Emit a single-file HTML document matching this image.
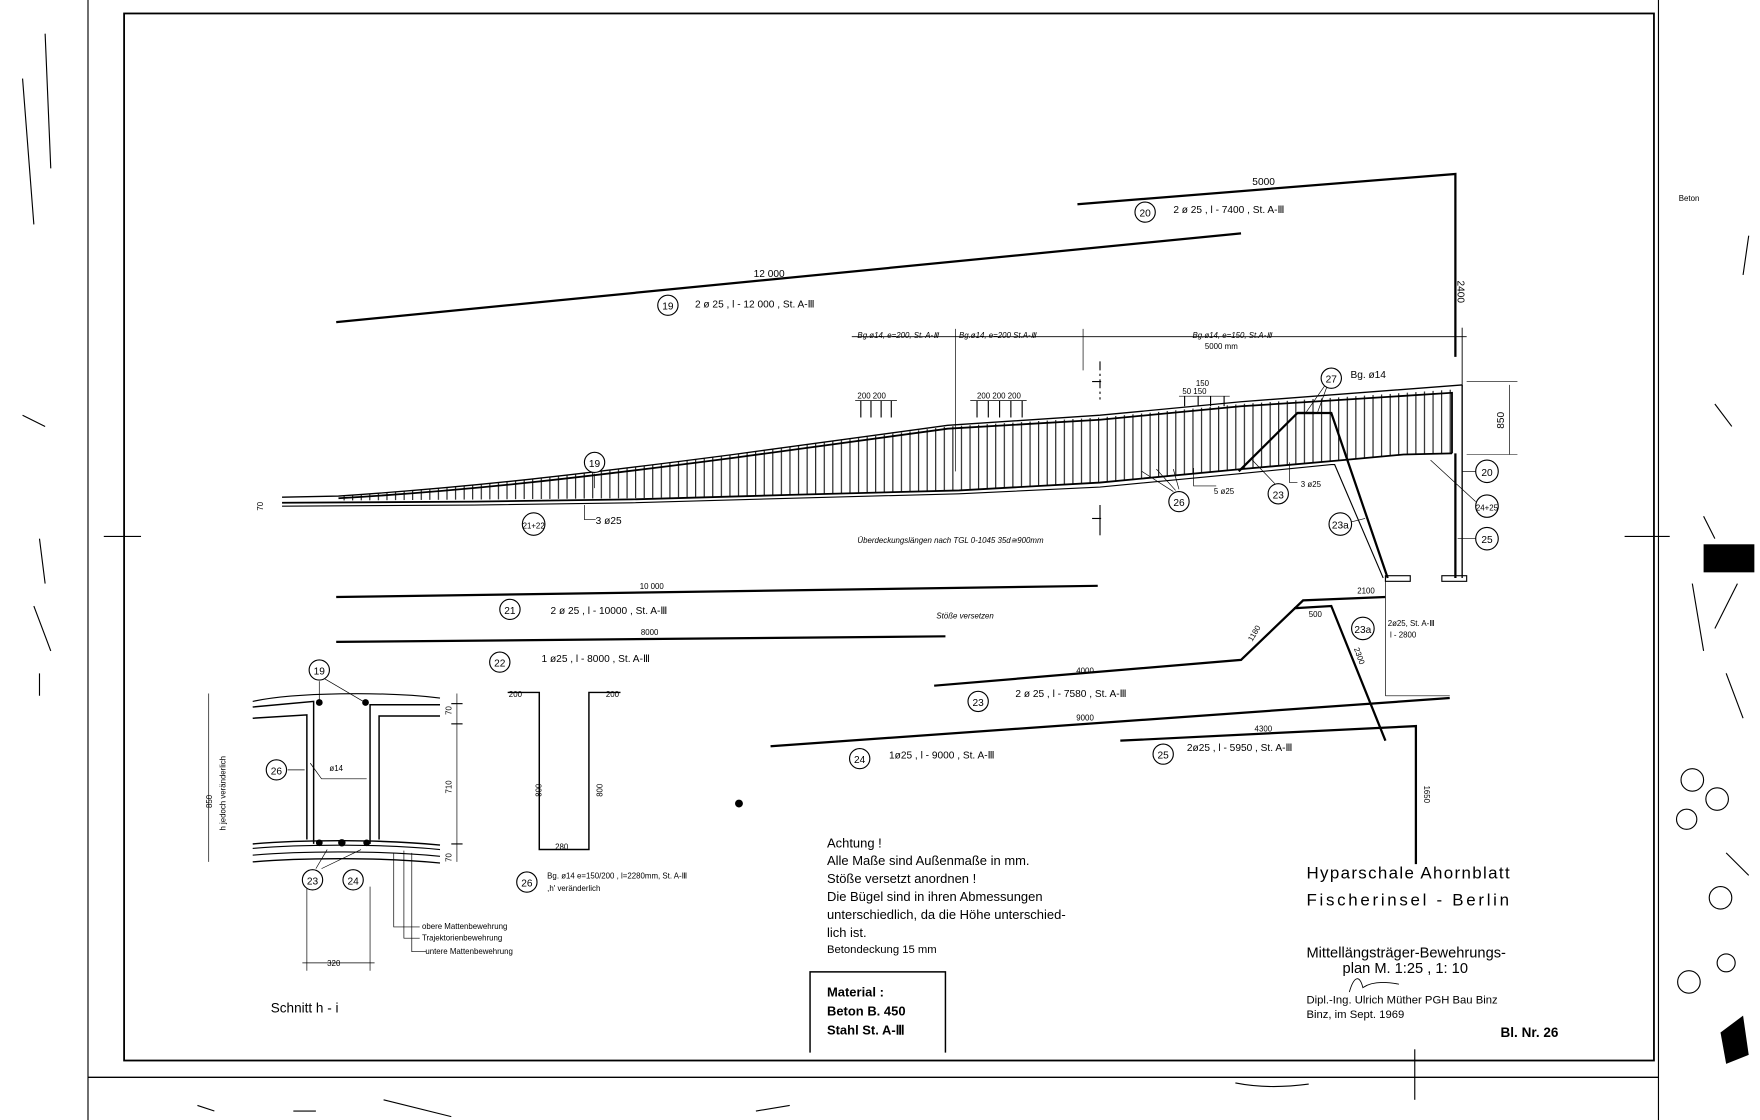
<!DOCTYPE html>
<html><head><meta charset="utf-8"><style>
html,body{margin:0;padding:0;background:#fff;}
svg{display:block;}
text{font-family:"Liberation Sans",sans-serif;fill:#000;}
.s{font-size:7px;}
.m{font-size:9px;}
.h{font-size:12px;}
</style></head><body>
<svg width="1760" height="1120" viewBox="0 0 1560 998" preserveAspectRatio="none" xmlns="http://www.w3.org/2000/svg">
<defs>
<pattern id="st" width="7.6" height="10" patternUnits="userSpaceOnUse"><line x1="1" y1="0" x2="1" y2="10" stroke="#000" stroke-width="0.9"/></pattern>
<clipPath id="bm"><path d="M300,442 C420,434 520,422 650,405 L840,380 L975,372 L1100,360 L1290,347 L1290,404 L1244,405 L1190,410 L1100,418 L975,430 L850,437 L700,441 L560,444 L300,446 Z"/></clipPath>
</defs>
<g fill="none" stroke="#000">
<!-- frame -->
<rect x="110" y="12" width="1356" height="933" stroke-width="1.6"/>
<line x1="78" y1="0" x2="78" y2="998" stroke-width="1"/>
<line x1="78" y1="960" x2="1470" y2="960" stroke-width="1.2"/>
<line x1="1470" y1="0" x2="1470" y2="998" stroke-width="1"/>
<line x1="92" y1="478" x2="125" y2="478"/><line x1="1440" y1="478" x2="1480" y2="478"/>
<line x1="1254" y1="935" x2="1254" y2="980"/>
<!-- bar 20 -->
<polyline points="955,182 1290,155 1290,318" stroke-width="2"/>
<!-- bar 19 -->
<line x1="298" y1="287" x2="1100" y2="208" stroke-width="2"/>
<!-- dim line -->
<line x1="755" y1="300" x2="1300" y2="300" stroke-width="0.8"/>
<line x1="847" y1="293" x2="847" y2="420" stroke-width="0.6"/>
<line x1="960" y1="293" x2="960" y2="330" stroke-width="0.6"/>
<line x1="1296" y1="292" x2="1296" y2="345" stroke-width="0.8"/>
<!-- beam -->
<rect x="250" y="330" width="1060" height="130" fill="url(#st)" clip-path="url(#bm)" stroke="none"/>
<path d="M250,443 L300,442 C420,434 520,422 650,405 L840,379 L975,370 L1100,358 L1296,343" stroke-width="1.2"/>
<path d="M300,444 C420,437 520,425 650,408 L840,382 L975,374 L1100,362 L1287,350 L1287,404" stroke-width="1.6"/>
<path d="M250,448 L420,447 L560,445 L700,441 L850,437 L975,430 L1100,418 L1190,410 L1244,405 L1287,404" stroke-width="1.6"/>
<path d="M250,451 L420,450 L560,448 L700,444 L850,440 L975,434 L1100,422 L1180,414 L1183,414 L1226,515" stroke-width="1"/>
<line x1="1296" y1="343" x2="1296" y2="515" stroke-width="1.2"/>
<line x1="1290" y1="404" x2="1290" y2="515" stroke-width="2"/>
<polyline points="1098,420 1150,368 1180,368 1230,515" stroke-width="2"/>
<line x1="1150" y1="368" x2="1165" y2="368" stroke-width="2"/>
<rect x="1228" y="513" width="22" height="5" stroke-width="1"/>
<rect x="1278" y="513" width="22" height="5" stroke-width="1"/>
<line x1="1338" y1="343" x2="1338" y2="405" stroke-width="0.6"/>
<line x1="1300" y1="340" x2="1345" y2="340" stroke-width="0.5"/><line x1="1300" y1="405" x2="1345" y2="405" stroke-width="0.5"/>
<!-- h marks -->
<line x1="975" y1="322" x2="975" y2="356" stroke-width="1" stroke-dasharray="8,3,2,3"/>
<line x1="975" y1="450" x2="975" y2="477" stroke-width="1"/>
<line x1="968" y1="340" x2="976" y2="340"/><line x1="968" y1="462" x2="976" y2="462"/>
<!-- small dims -->
<line x1="758" y1="357" x2="795" y2="357" stroke-width="0.6"/>
<line x1="763" y1="357" x2="763" y2="372"/><line x1="772" y1="357" x2="772" y2="372"/><line x1="781" y1="357" x2="781" y2="372"/><line x1="790" y1="357" x2="790" y2="372"/>
<line x1="860" y1="357" x2="910" y2="357" stroke-width="0.6"/>
<line x1="866" y1="357" x2="866" y2="372"/><line x1="876" y1="357" x2="876" y2="372"/><line x1="886" y1="357" x2="886" y2="372"/><line x1="896" y1="357" x2="896" y2="372"/><line x1="906" y1="357" x2="906" y2="372"/>
<line x1="1045" y1="398" x2="1080" y2="398" stroke-width="0"/>
<line x1="1045" y1="353" x2="1090" y2="353" stroke-width="0.6"/>
<line x1="1050" y1="353" x2="1050" y2="362"/><line x1="1062" y1="353" x2="1062" y2="362"/><line x1="1073" y1="353" x2="1073" y2="362"/><line x1="1085" y1="353" x2="1085" y2="362"/>
<!-- leader lines -->
<line x1="527" y1="422" x2="527" y2="435" stroke-width="0.6"/>
<polyline points="518,450 518,463 528,463" stroke-width="0.6"/>
<line x1="1040" y1="438" x2="1012" y2="420" stroke-width="0.6"/><line x1="1042" y1="437" x2="1025" y2="418" stroke-width="0.6"/><line x1="1045" y1="436" x2="1040" y2="418" stroke-width="0.6"/>
<polyline points="1058,417 1058,433 1078,433" stroke-width="0.6"/>
<line x1="1130" y1="431" x2="1110" y2="410" stroke-width="0.6"/>
<polyline points="1143,412 1143,430 1150,430" stroke-width="0.6"/>
<line x1="1174" y1="344" x2="1158" y2="367" stroke-width="0.6"/><line x1="1176" y1="345" x2="1168" y2="367" stroke-width="0.6"/>
<line x1="1308" y1="420" x2="1296" y2="420" stroke-width="0.6"/>
<line x1="1308" y1="447" x2="1268" y2="410" stroke-width="0.6"/>
<line x1="1308" y1="480" x2="1292" y2="480" stroke-width="0.6"/>
<line x1="1198" y1="465" x2="1210" y2="462" stroke-width="0.6"/>
<!-- bar 21, 22 -->
<line x1="298" y1="532" x2="973" y2="522" stroke-width="2"/>
<line x1="298" y1="572" x2="838" y2="567" stroke-width="2"/>
<!-- bar 23 -->
<polyline points="828,611 1100,588 1155,535 1228,532" stroke-width="2"/>
<polyline points="1147,542 1180,540 1228,660" stroke-width="2"/>
<line x1="1228" y1="518" x2="1228" y2="620" stroke-width="0.6"/>
<line x1="1228" y1="620" x2="1285" y2="620" stroke-width="0.6"/>
<!-- bar 24,25 -->
<line x1="683" y1="665" x2="1285" y2="622" stroke-width="2"/>
<polyline points="993,660 1255,647 1255,770" stroke-width="2"/>
<!-- section -->
<path d="M224,625 C260,617 340,616 390,622" stroke-width="1"/>
<path d="M224,630 L278,625 L278,752" stroke-width="1.3"/>
<path d="M224,640 L272,637 L272,748" stroke-width="1.3"/>
<path d="M390,628 L328,628 L328,752" stroke-width="1.3"/>
<path d="M390,638 L336,638 L336,748" stroke-width="1.3"/>
<path d="M224,752 C270,748 340,748 390,753" stroke-width="1.3"/>
<path d="M224,756 C270,752 340,752 390,757" stroke-width="1"/>
<path d="M224,762 C270,758 340,758 390,763" stroke-width="1"/>
<path d="M224,768 C270,764 340,764 390,769" stroke-width="1.2"/>
<line x1="185" y1="618" x2="185" y2="768" stroke-width="0.6"/>
<line x1="405" y1="618" x2="405" y2="768" stroke-width="0.6"/>
<line x1="400" y1="627" x2="410" y2="627"/><line x1="400" y1="645" x2="410" y2="645"/><line x1="400" y1="752" x2="410" y2="752"/>
<line x1="272" y1="790" x2="272" y2="865" stroke-width="0.6"/><line x1="328" y1="790" x2="328" y2="865" stroke-width="0.6"/>
<line x1="268" y1="858" x2="332" y2="858" stroke-width="0.6"/>
<polyline points="275,680 285,694 325,694" stroke-width="0.6"/>
<line x1="255" y1="686" x2="270" y2="686" stroke-width="0.6"/>
<line x1="283" y1="607" x2="283" y2="625" stroke-width="0.6"/><line x1="288" y1="605" x2="322" y2="625" stroke-width="0.6"/>
<line x1="280" y1="774" x2="290" y2="757" stroke-width="0.6"/><line x1="285" y1="774" x2="320" y2="757" stroke-width="0.6"/>
<polyline points="365,760 365,848 378,848" stroke-width="0.6"/>
<polyline points="358,758 358,836 372,836" stroke-width="0.6"/>
<polyline points="349,760 349,826 372,826" stroke-width="0.6"/>
<!-- stirrup 26 -->
<polyline points="450,617 478,617 478,757 522,757 522,617 550,617" stroke-width="1.3"/>
<!-- material box -->
<polyline points="718,938 718,866 838,866 838,938" stroke-width="1.3"/>
</g>
<g fill="#000">
<circle cx="283" cy="626" r="3"/><circle cx="324" cy="626" r="3"/>
<circle cx="283" cy="751" r="3"/><circle cx="303" cy="751" r="3.3"/><circle cx="325" cy="751" r="3"/>
<circle cx="655" cy="716" r="3.5"/>
<rect x="1510" y="485" width="45" height="25"/>
<path d="M1525,920 L1545,905 L1550,940 L1530,948 Z"/>
</g>
<!-- circles -->
<g fill="#fff" stroke="#000" stroke-width="1">
<circle cx="1015" cy="189" r="9"/><circle cx="592" cy="272" r="9"/>
<circle cx="527" cy="412" r="9"/><circle cx="473" cy="467" r="10"/>
<circle cx="1045" cy="447" r="9"/><circle cx="1133" cy="440" r="9"/><circle cx="1180" cy="337" r="9"/>
<circle cx="1318" cy="420" r="10"/><circle cx="1318" cy="451" r="10"/><circle cx="1318" cy="480" r="10"/><circle cx="1188" cy="467" r="10"/>
<circle cx="452" cy="543" r="9"/><circle cx="443" cy="590" r="9"/><circle cx="867" cy="625" r="9"/><circle cx="1208" cy="560" r="10"/>
<circle cx="762" cy="676" r="9"/><circle cx="1031" cy="672" r="9"/>
<circle cx="283" cy="597" r="9"/><circle cx="245" cy="686" r="9"/><circle cx="277" cy="784" r="9"/><circle cx="313" cy="784" r="9"/><circle cx="467" cy="786" r="9"/>
</g>
<g fill="none" stroke="#000" stroke-width="1">
<circle cx="1500" cy="695" r="10"/><circle cx="1522" cy="712" r="10"/><circle cx="1495" cy="730" r="9"/><circle cx="1525" cy="800" r="10"/><circle cx="1497" cy="875" r="10"/><circle cx="1530" cy="858" r="8"/>
<path d="M1510,460 L1520,480 M1540,520 L1520,560 M1500,520 L1510,580 M1530,600 L1545,640 M1530,760 L1550,780"/>
<path d="M20,70 L30,200 M40,30 L45,150 M20,370 L40,380 M35,480 L40,520 M30,540 L45,580 M35,600 L35,620 M1520,360 L1535,380 M1550,210 L1545,245"/>
<path d="M175,985 L190,990 M260,990 L280,990 M340,980 L400,995 M670,990 L700,985 M1095,965 C1110,968 1130,970 1160,966"/>
</g>
<g class="m">
<text x="1110" y="165">5000</text>
<text x="1040" y="190">2 ø 25 ,  l - 7400 ,  St. A-Ⅲ</text>
<text x="1292" y="250" transform="rotate(90 1292 250)">2400</text>
<text x="668" y="247">12 000</text>
<text x="616" y="274">2 ø 25 ,  l - 12 000 ,  St. A-Ⅲ</text>
<text x="760" y="301" class="s" font-style="italic">Bg.ø14, e=200, St. A-Ⅲ</text>
<text x="850" y="301" class="s" font-style="italic">Bg.ø14, e=200 St.A-Ⅲ</text>
<text x="1057" y="301" class="s" font-style="italic">Bg.ø14, e=150, St.A-Ⅲ</text>
<text x="1068" y="311" class="s">5000 mm</text>
<text x="760" y="355" class="s">200 200</text>
<text x="866" y="355" class="s">200 200 200</text>
<text x="1048" y="351" class="s">50  150</text><text x="1060" y="344" class="s">150</text>
<text x="1197" y="337">Bg. ø14</text>
<text x="1333" y="382" transform="rotate(-90 1333 382)">850</text>
<text x="225" y="447" class="s" transform="rotate(-90 233 447)">70</text>
<text x="528" y="467">3 ø25</text>
<text x="1076" y="440" class="s">5 ø25</text>
<text x="1153" y="434" class="s">3 ø25</text>
<text x="760" y="484" class="s" font-style="italic">Überdeckungslängen nach TGL 0-1045  35d≅900mm</text>
<text x="567" y="525" class="s">10 000</text>
<text x="488" y="547">2 ø 25 ,  l - 10000 ,  St. A-Ⅲ</text>
<text x="830" y="551" class="s" font-style="italic">Stöße versetzen</text>
<text x="568" y="566" class="s">8000</text>
<text x="480" y="590">1 ø25 ,   l - 8000 ,  St. A-Ⅲ</text>
<text x="954" y="600" class="s">4000</text>
<text x="1110" y="572" class="s" transform="rotate(-60 1110 572)">1180</text>
<text x="1160" y="550" class="s">500</text>
<text x="1203" y="529" class="s">2100</text>
<text x="1230" y="558" class="s">2ø25, St. A-Ⅲ</text>
<text x="1232" y="568" class="s">l - 2800</text>
<text x="1200" y="578" class="s" transform="rotate(70 1200 578)">2300</text>
<text x="900" y="621">2 ø 25 , l - 7580 ,  St. A-Ⅲ</text>
<text x="954" y="642" class="s">9000</text>
<text x="1112" y="652" class="s">4300</text>
<text x="1262" y="700" class="s" transform="rotate(90 1262 700)">1650</text>
<text x="788" y="676">1ø25 , l - 9000 , St. A-Ⅲ</text>
<text x="1052" y="669">2ø25 , l - 5950 ,  St. A-Ⅲ</text>
<text x="1488" y="179" class="s">Beton</text>
</g>
<!-- circle labels -->
<g class="m" text-anchor="middle">
<text x="1015" y="193">20</text><text x="592" y="276">19</text><text x="527" y="416">19</text><text x="473" y="471" class="s">21+22</text>
<text x="1045" y="451">26</text><text x="1133" y="444">23</text><text x="1180" y="341">27</text>
<text x="1318" y="424">20</text><text x="1318" y="455" class="s">24+25</text><text x="1318" y="484">25</text><text x="1188" y="471">23a</text>
<text x="452" y="547">21</text><text x="443" y="594">22</text><text x="867" y="629">23</text><text x="1208" y="564">23a</text>
<text x="762" y="680">24</text><text x="1031" y="676">25</text>
<text x="283" y="601">19</text><text x="245" y="690">26</text><text x="277" y="788">23</text><text x="313" y="788">24</text><text x="467" y="790">26</text>
</g>
<g class="s">
<text x="188" y="720" transform="rotate(-90 188 720)">850</text>
<text x="200" y="740" transform="rotate(-90 200 740)">h jedoch veränderlich</text>
<text x="400" y="637" transform="rotate(-90 400 637)">70</text>
<text x="400" y="707" transform="rotate(-90 400 707)">710</text>
<text x="400" y="768" transform="rotate(-90 400 768)">70</text>
<text x="292" y="687">ø14</text>
<text x="290" y="861">320</text>
<text x="374" y="828">obere Mattenbewehrung</text>
<text x="374" y="838">Trajektorienbewehrung</text>
<text x="377" y="850">untere Mattenbewehrung</text>
<text x="451" y="621">200</text><text x="537" y="621">200</text>
<text x="480" y="710" transform="rotate(-90 480 710)">800</text>
<text x="534" y="710" transform="rotate(-90 534 710)">800</text>
<text x="492" y="757">280</text>
<text x="485" y="783">Bg. ø14  e=150/200 , l=2280mm, St. A-Ⅲ</text>
<text x="485" y="794">,h' veränderlich</text>
</g>
<text x="240" y="902" font-size="12">Schnitt  h - i</text>
<g font-size="11.5">
<text x="733" y="755">Achtung !</text>
<text x="733" y="771">Alle Maße sind Außenmaße in mm.</text>
<text x="733" y="787">Stöße  versetzt  anordnen !</text>
<text x="733" y="803">Die Bügel sind in ihren Abmessungen</text>
<text x="733" y="819">unterschiedlich, da die Höhe unterschied-</text>
<text x="733" y="835">lich  ist.</text>
<text x="733" y="849" font-size="10">Betondeckung    15 mm</text>
<text x="733" y="888" font-weight="bold">Material :</text>
<text x="733" y="905" font-weight="bold">Beton  B. 450</text>
<text x="733" y="922" font-weight="bold">Stahl  St.  A-Ⅲ</text>
</g>
<text x="1158" y="783" font-size="15" letter-spacing="1.2">Hyparschale  Ahornblatt</text>
<text x="1158" y="807" font-size="15" letter-spacing="2.4">Fischerinsel - Berlin</text>
<text x="1158" y="853" font-size="13">Mittellängsträger-Bewehrungs-</text>
<text x="1190" y="867" font-size="13">plan   M. 1:25 , 1: 10</text>
<text x="1158" y="894" font-size="10">Dipl.-Ing. Ulrich Müther    PGH Bau Binz</text>
<text x="1158" y="907" font-size="10">Binz, im Sept. 1969</text>
<text x="1330" y="924" font-size="12" font-weight="bold">Bl. Nr.  26</text>
<path d="M1196,884 C1200,870 1205,868 1208,880 C1215,875 1225,874 1240,877" fill="none" stroke="#000" stroke-width="0.8"/>
</svg>
</body></html>
